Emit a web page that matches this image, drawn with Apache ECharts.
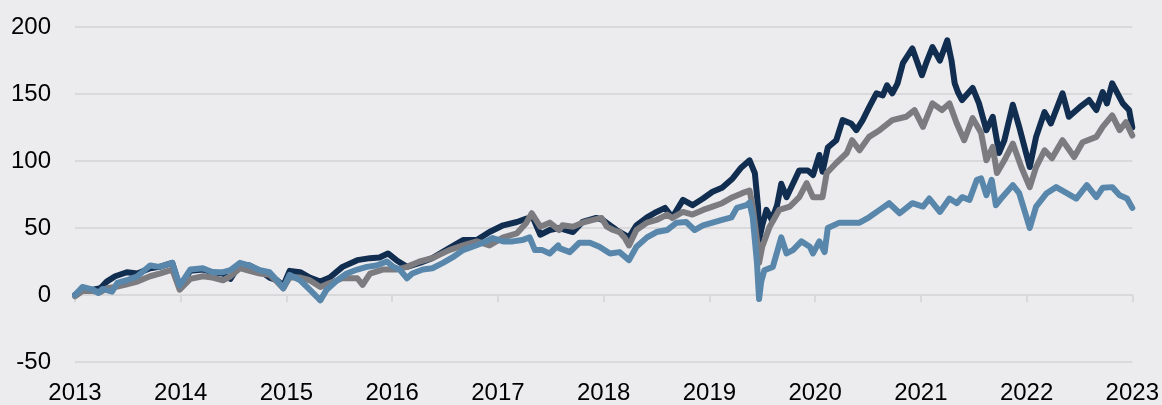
<!DOCTYPE html>
<html>
<head>
<meta charset="utf-8">
<script src="https://cdn.jsdelivr.net/npm/echarts@6/dist/echarts.min.js"></script>
<style>
  html, body { margin: 0; padding: 0; background: #ececef; }
  #main { width: 1162px; height: 405px; }
</style>
</head>
<body>
<div id="main"></div>
<script>
// tick labels
const yearTicks = [2013, 2014, 2015, 2016, 2017, 2018, 2019, 2020, 2021, 2022, 2023];
const yTicks = [-50, 0, 50, 100, 150, 200];

// dark navy line [position on year axis, value]
const navyData = [
  [2013.00, 0], [2013.07, 4], [2013.17, 4], [2013.24, 5], [2013.30, 10], [2013.38, 14], [2013.49, 17],
  [2013.59, 16], [2013.71, 20], [2013.80, 21], [2013.92, 24], [2013.99, 6], [2014.09, 18], [2014.21, 19],
  [2014.30, 17], [2014.40, 16], [2014.47, 12], [2014.56, 23], [2014.65, 22], [2014.75, 18], [2014.84, 13],
  [2014.91, 11], [2014.97, 7], [2015.03, 18], [2015.13, 17], [2015.22, 13], [2015.32, 10], [2015.41, 13],
  [2015.53, 21], [2015.67, 26], [2015.79, 27.5], [2015.88, 28], [2015.96, 31], [2016.04, 26], [2016.14, 21],
  [2016.26, 24], [2016.38, 27.5], [2016.54, 35], [2016.67, 41], [2016.80, 41], [2016.92, 47], [2017.05, 52],
  [2017.18, 54.5], [2017.27, 57], [2017.33, 58], [2017.40, 45], [2017.49, 48.5], [2017.58, 50], [2017.71, 47],
  [2017.80, 54.5], [2017.93, 57.5], [2017.99, 56], [2018.12, 48.5], [2018.24, 43], [2018.31, 52], [2018.41, 58],
  [2018.50, 62], [2018.58, 65], [2018.65, 58], [2018.75, 71], [2018.84, 67], [2018.94, 72], [2019.03, 77],
  [2019.12, 80], [2019.22, 87], [2019.30, 95], [2019.38, 100.5], [2019.43, 91], [2019.46, 66], [2019.47, 41],
  [2019.50, 52], [2019.54, 63.5], [2019.59, 56], [2019.64, 67], [2019.68, 83], [2019.73, 73], [2019.79, 83],
  [2019.85, 93], [2019.93, 93], [2019.98, 89.5], [2020.04, 104.5], [2020.07, 92], [2020.12, 110], [2020.20, 115.5],
  [2020.26, 130.5], [2020.34, 128], [2020.39, 123], [2020.45, 130.5], [2020.51, 140], [2020.58, 150.5],
  [2020.64, 149], [2020.68, 156.5], [2020.73, 150.5], [2020.78, 158], [2020.83, 173], [2020.92, 184],
  [2021.01, 164], [2021.05, 173], [2021.11, 185], [2021.18, 175], [2021.25, 190], [2021.29, 175], [2021.32, 158],
  [2021.35, 151.5], [2021.39, 145.5], [2021.49, 154.5], [2021.55, 143], [2021.62, 123], [2021.68, 133],
  [2021.74, 106], [2021.79, 115.5], [2021.87, 142], [2021.93, 125.5], [2022.03, 95.5], [2022.09, 118],
  [2022.17, 136.5], [2022.23, 128], [2022.34, 150.5], [2022.40, 133], [2022.50, 140], [2022.59, 145.5],
  [2022.66, 138], [2022.72, 151.5], [2022.76, 143], [2022.81, 158], [2022.91, 143], [2022.97, 138], [2023.00, 125]
];

// grey line
const greyData = [
  [2013.00, -1], [2013.07, 3], [2013.17, 3], [2013.24, 2], [2013.30, 5], [2013.38, 6], [2013.49, 8],
  [2013.59, 10], [2013.71, 14], [2013.80, 16], [2013.92, 19], [2013.99, 4], [2014.09, 12], [2014.21, 14],
  [2014.30, 13], [2014.40, 11], [2014.47, 14], [2014.56, 20], [2014.65, 18], [2014.75, 16], [2014.84, 15],
  [2014.91, 10], [2014.97, 5], [2015.03, 13], [2015.13, 13], [2015.22, 11], [2015.32, 6], [2015.41, 9],
  [2015.53, 12.5], [2015.67, 12.5], [2015.72, 7.5], [2015.79, 16], [2015.91, 19], [2016.04, 19], [2016.14, 21],
  [2016.26, 25], [2016.38, 27.5], [2016.54, 33.5], [2016.67, 37], [2016.80, 40], [2016.92, 37], [2017.05, 43],
  [2017.18, 46], [2017.27, 54], [2017.32, 61], [2017.40, 51], [2017.49, 54], [2017.58, 48.5], [2017.61, 52],
  [2017.71, 51], [2017.80, 54], [2017.90, 56], [2017.98, 57.5], [2018.03, 51], [2018.09, 48.5], [2018.15, 47],
  [2018.20, 42.5], [2018.24, 37], [2018.31, 48.5], [2018.41, 54], [2018.50, 56], [2018.60, 60], [2018.65, 57.5],
  [2018.75, 62], [2018.84, 60], [2018.94, 63.5], [2019.03, 66], [2019.12, 68.5], [2019.22, 73], [2019.31, 76],
  [2019.38, 78], [2019.41, 66], [2019.45, 41], [2019.47, 24], [2019.50, 36], [2019.57, 51], [2019.66, 63.5],
  [2019.76, 66], [2019.85, 73], [2019.92, 83.5], [2019.98, 73], [2020.07, 73], [2020.11, 91], [2020.20, 98.5],
  [2020.30, 106], [2020.35, 115.5], [2020.42, 108], [2020.51, 118], [2020.61, 123], [2020.73, 130.5],
  [2020.86, 133], [2020.94, 138], [2021.02, 125.5], [2021.11, 143], [2021.20, 138], [2021.27, 143],
  [2021.34, 128], [2021.41, 115.5], [2021.49, 132], [2021.57, 121], [2021.62, 100.5], [2021.68, 110.5],
  [2021.72, 91], [2021.79, 100.5], [2021.87, 113], [2021.95, 95.5], [2022.03, 80.5], [2022.09, 95.5],
  [2022.17, 108], [2022.24, 102], [2022.34, 115.5], [2022.45, 103], [2022.53, 114], [2022.66, 118],
  [2022.72, 125.5], [2022.81, 134], [2022.88, 123], [2022.94, 129], [2023.00, 119]
];

// light blue line
const blueData = [
  [2013.00, 0], [2013.07, 6], [2013.17, 4], [2013.22, 1.5], [2013.26, 4.5], [2013.35, 2.5], [2013.40, 9],
  [2013.49, 11], [2013.59, 14], [2013.71, 22], [2013.80, 21], [2013.92, 24], [2013.99, 7], [2014.09, 19],
  [2014.21, 20], [2014.30, 17], [2014.40, 17], [2014.47, 18.5], [2014.56, 24], [2014.65, 22], [2014.75, 18.5],
  [2014.84, 17], [2014.91, 11], [2014.97, 5], [2015.03, 15], [2015.13, 11], [2015.22, 4], [2015.29, -1.5],
  [2015.32, -4], [2015.38, 4], [2015.48, 11], [2015.57, 16], [2015.67, 19], [2015.76, 21], [2015.85, 22],
  [2015.95, 25], [2016.01, 21], [2016.07, 19], [2016.14, 12.5], [2016.19, 16], [2016.29, 19], [2016.38, 20],
  [2016.48, 24], [2016.57, 28], [2016.67, 33.5], [2016.76, 36], [2016.86, 39], [2016.95, 42.5], [2017.05, 40],
  [2017.14, 40], [2017.23, 41], [2017.30, 43], [2017.35, 33.5], [2017.42, 33.5], [2017.49, 31], [2017.57, 37],
  [2017.58, 35], [2017.68, 32], [2017.77, 39], [2017.87, 39], [2017.96, 36], [2018.06, 31], [2018.15, 32],
  [2018.24, 26], [2018.31, 36], [2018.41, 43], [2018.50, 47], [2018.60, 48.5], [2018.69, 54], [2018.78, 54.5],
  [2018.86, 48.5], [2018.94, 52], [2019.03, 54], [2019.12, 56], [2019.21, 58], [2019.26, 65], [2019.35, 67],
  [2019.38, 69], [2019.41, 58], [2019.45, 24], [2019.47, -3], [2019.49, 10], [2019.52, 18.5], [2019.60, 21],
  [2019.68, 43], [2019.73, 31], [2019.79, 33.5], [2019.87, 40], [2019.95, 36], [2019.98, 31], [2020.04, 40],
  [2020.09, 32], [2020.12, 50], [2020.23, 54], [2020.33, 54], [2020.42, 54], [2020.51, 58], [2020.61, 63.5],
  [2020.70, 68.5], [2020.80, 61], [2020.92, 68.5], [2021.02, 66], [2021.08, 72], [2021.18, 62], [2021.27, 72],
  [2021.34, 68.5], [2021.39, 73], [2021.46, 71], [2021.53, 86], [2021.57, 87], [2021.62, 74.5], [2021.67, 86],
  [2021.71, 67], [2021.77, 73], [2021.87, 82], [2021.93, 76], [2022.00, 58], [2022.03, 50], [2022.09, 66],
  [2022.19, 76], [2022.28, 80.5], [2022.38, 76], [2022.47, 72], [2022.57, 82], [2022.66, 73], [2022.72, 80],
  [2022.81, 80.5], [2022.88, 74.5], [2022.95, 72], [2023.00, 65]
];

const chart = echarts.init(document.getElementById('main'));

const labelFont = { fontFamily: 'Liberation Sans, Arial, sans-serif', fontSize: 24, color: '#000' };
const gridColor = '#d9d9dc';

function line(name, data, color) {
  return {
    name: name,
    type: 'line',
    xAxisIndex: 0,
    data: data,
    showSymbol: false,
    symbol: 'none',
    lineStyle: { color: color, width: 6, cap: 'round', join: 'round' },
    itemStyle: { color: color }
  };
}

const option = {
  animation: false,
  backgroundColor: '#ececef',
  grid: { left: 75, right: 29, top: 27, bottom: 43 },
  xAxis: [
    {
      // axis line + ticks sitting on the zero line
      type: 'value',
      min: yearTicks[0],
      max: yearTicks[yearTicks.length - 1],
      interval: 1,
      axisLine: { show: true, onZero: true, lineStyle: { color: gridColor, width: 2 } },
      axisTick: { show: true, length: 7, lineStyle: { color: gridColor, width: 2 } },
      axisLabel: { show: false },
      splitLine: { show: false }
    },
    {
      // year labels at the bottom
      type: 'value',
      position: 'bottom',
      min: yearTicks[0],
      max: yearTicks[yearTicks.length - 1],
      interval: 1,
      axisLine: { show: false, onZero: false },
      axisTick: { show: false },
      axisLabel: Object.assign({ margin: 19, formatter: v => String(v) }, labelFont),
      splitLine: { show: false }
    }
  ],
  yAxis: {
    type: 'value',
    min: yTicks[0],
    max: yTicks[yTicks.length - 1],
    interval: 50,
    axisLine: { show: false },
    axisTick: { show: false },
    axisLabel: Object.assign({ margin: 24 }, labelFont),
    splitLine: { show: true, lineStyle: { color: gridColor, width: 2 } }
  },
  series: [
    line('navy', navyData, '#112e51'),
    line('grey', greyData, '#7c7c80'),
    line('blue', blueData, '#5987ac')
  ]
};

chart.setOption(option);
</script>
</body>
</html>
